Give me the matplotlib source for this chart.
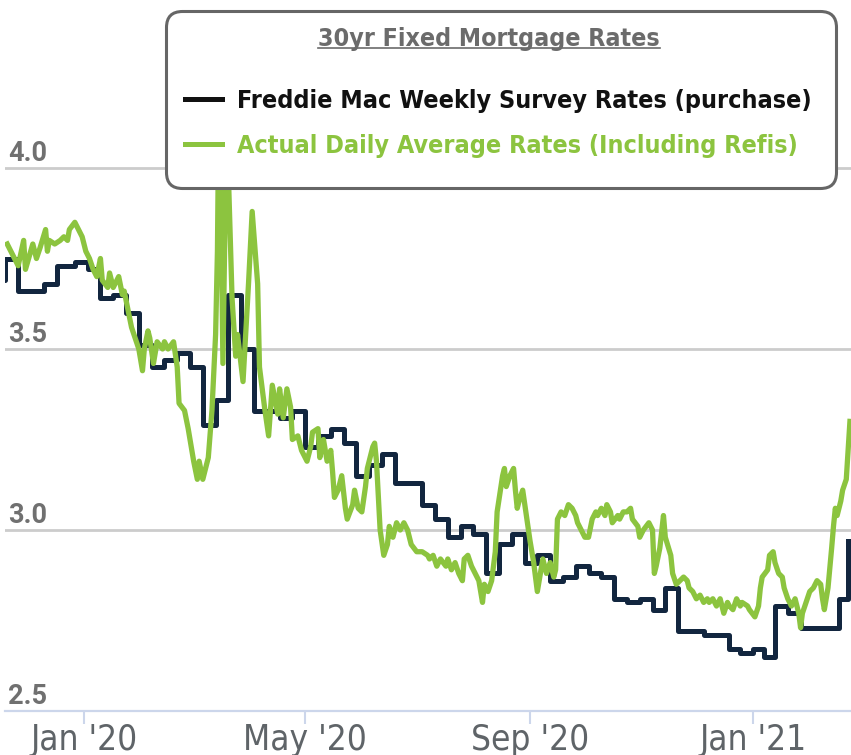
import numpy as np
import pandas as pd
import matplotlib
matplotlib.use('Agg')
import matplotlib.pyplot as plt
from matplotlib import font_manager as fm
from matplotlib.patches import FancyBboxPatch
from matplotlib.lines import Line2D
from matplotlib.font_manager import FontProperties
import matplotlib.transforms as mtransforms

# weekly survey (step line), dates as they sit on the chart
freddie_dates = ['2019-11-12', '2019-11-19', '2019-11-26', '2019-12-10', '2019-12-17',
                 '2019-12-27', '2020-01-03', '2020-01-10', '2020-01-17', '2020-01-24',
                 '2020-01-31', '2020-02-07', '2020-02-14', '2020-02-21', '2020-02-28',
                 '2020-03-06', '2020-03-13', '2020-03-20', '2020-03-27', '2020-04-03',
                 '2020-04-10', '2020-04-17', '2020-04-24', '2020-05-01', '2020-05-08',
                 '2020-05-15', '2020-05-22', '2020-05-29', '2020-06-05', '2020-06-12',
                 '2020-06-19', '2020-06-26', '2020-07-04', '2020-07-11', '2020-07-18',
                 '2020-07-25', '2020-08-01', '2020-08-08', '2020-08-15', '2020-08-22',
                 '2020-08-29', '2020-09-05', '2020-09-12', '2020-09-19', '2020-09-26',
                 '2020-10-03', '2020-10-10', '2020-10-17', '2020-10-24', '2020-10-31',
                 '2020-11-07', '2020-11-14', '2020-11-21', '2020-11-27', '2020-12-05',
                 '2020-12-12', '2020-12-19', '2020-12-25', '2021-01-01', '2021-01-07',
                 '2021-01-13', '2021-01-20', '2021-01-27', '2021-02-03', '2021-02-10',
                 '2021-02-17', '2021-02-22']
freddie_rates = [3.69, 3.75, 3.66, 3.68, 3.73, 3.74, 3.72, 3.64, 3.65, 3.60,
                 3.51, 3.45, 3.47, 3.49, 3.45, 3.29, 3.36, 3.65, 3.50, 3.33,
                 3.33, 3.31, 3.33, 3.23, 3.26, 3.28, 3.24, 3.15, 3.18, 3.21,
                 3.13, 3.13, 3.07, 3.03, 2.98, 3.01, 2.99, 2.88, 2.96, 2.99,
                 2.91, 2.93, 2.86, 2.87, 2.90, 2.88, 2.87, 2.81, 2.80, 2.81,
                 2.78, 2.84, 2.72, 2.72, 2.71, 2.71, 2.67, 2.66, 2.67, 2.65,
                 2.79, 2.77, 2.73, 2.73, 2.73, 2.81, 2.97]

# daily average, days counted from 2020-01-01
daily_origin = '2020-01-01'
daily_days = [-42, -36, -33, -32, -28, -26, -24, -21, -20, -19, -16, -13, -11, -9, -8,
              -5, -3, -1, 1, 3, 5, 7, 9, 10, 13, 14, 16, 19, 21, 22, 24, 26, 28, 30,
              32, 33, 35, 36, 38, 40, 43, 44, 46, 49, 51, 52, 55, 57, 60, 62, 63, 65,
              68, 70, 72, 73, 74, 76, 78, 81, 83, 84, 87, 90, 92, 95, 96, 99, 101,
              103, 106, 107, 109, 111, 113, 114, 117, 119, 122, 124, 125, 128, 129,
              131, 133, 135, 136, 137, 139, 141, 143, 144, 147, 148, 150, 152, 154,
              155, 158, 159, 160, 162, 164, 166, 167, 169, 171, 173, 175, 177, 179,
              182, 185, 188, 189, 191, 193, 195, 198, 199, 201, 203, 205, 207, 208,
              210, 212, 214, 216, 218, 219, 221, 223, 225, 226, 229, 230, 231, 233,
              235, 236, 237, 238, 240, 242, 244, 246, 248, 249, 251, 253, 255, 257,
              258, 259, 261, 263, 265, 267, 269, 270, 272, 274, 276, 278, 280, 281,
              283, 285, 286, 288, 289, 292, 293, 295, 297, 299, 300, 303, 304, 306,
              309, 311, 312, 313, 315, 317, 318, 321, 322, 324, 326, 328, 330, 331,
              333, 335, 337, 339, 341, 342, 344, 346, 348, 350, 352, 353, 355, 357,
              359, 360, 363, 364, 367, 369, 370, 371, 374, 375, 377, 378, 380, 382,
              383, 385, 387, 389, 391, 392, 393, 395, 397, 399, 401, 403, 404, 405,
              407, 409, 410, 411, 412, 414, 415, 417, 418, 419]
daily_rates = [3.79, 3.73, 3.80, 3.72, 3.79, 3.75, 3.78, 3.83, 3.77, 3.80, 3.79, 3.80,
               3.81, 3.80, 3.83, 3.85, 3.83, 3.81, 3.77, 3.75, 3.72, 3.70, 3.75, 3.69,
               3.67, 3.71, 3.67, 3.70, 3.65, 3.66, 3.61, 3.56, 3.53, 3.50, 3.44, 3.50,
               3.55, 3.53, 3.46, 3.52, 3.50, 3.52, 3.50, 3.52, 3.45, 3.35, 3.33, 3.28,
               3.19, 3.14, 3.19, 3.14, 3.20, 3.33, 3.54, 3.77, 4.30, 3.46, 4.15, 3.64,
               3.48, 3.54, 3.41, 3.68, 3.88, 3.68, 3.45, 3.33, 3.26, 3.40, 3.32, 3.39,
               3.31, 3.39, 3.34, 3.25, 3.26, 3.22, 3.19, 3.23, 3.27, 3.28, 3.20, 3.25,
               3.19, 3.22, 3.16, 3.09, 3.11, 3.15, 3.06, 3.03, 3.07, 3.11, 3.06, 3.05,
               3.12, 3.17, 3.23, 3.24, 3.19, 3.00, 2.93, 2.96, 3.01, 2.98, 3.02, 3.00,
               3.02, 3.00, 2.96, 2.94, 2.94, 2.93, 2.92, 2.93, 2.90, 2.92, 2.90, 2.92,
               2.89, 2.91, 2.88, 2.86, 2.92, 2.93, 2.90, 2.88, 2.86, 2.80, 2.85, 2.83,
               2.86, 2.94, 3.05, 3.15, 3.17, 3.12, 3.15, 3.17, 3.11, 3.06, 3.08, 3.11,
               3.04, 2.97, 2.91, 2.83, 2.86, 2.92, 2.88, 2.91, 2.87, 2.89, 3.03, 3.05,
               3.04, 3.07, 3.06, 3.04, 3.02, 3.00, 2.98, 2.98, 3.03, 3.05, 3.04, 3.06,
               3.04, 3.07, 3.05, 3.02, 3.04, 3.03, 3.05, 3.05, 3.06, 3.03, 3.01, 2.98,
               3.00, 3.02, 3.00, 2.88, 2.90, 2.95, 3.04, 2.98, 2.93, 2.88, 2.85, 2.86,
               2.87, 2.86, 2.84, 2.83, 2.81, 2.82, 2.80, 2.81, 2.80, 2.81, 2.79, 2.81,
               2.77, 2.80, 2.79, 2.78, 2.81, 2.79, 2.80, 2.79, 2.78, 2.76, 2.79, 2.84,
               2.87, 2.89, 2.93, 2.94, 2.91, 2.88, 2.87, 2.84, 2.81, 2.79, 2.81, 2.77,
               2.73, 2.77, 2.80, 2.83, 2.84, 2.86, 2.85, 2.81, 2.78, 2.84, 2.95, 3.01,
               3.06, 3.04, 3.08, 3.11, 3.14, 3.22, 3.30]

y_ticks = [2.5, 3.0, 3.5, 4.0]
x_tick_dates = ['2020-01-01', '2020-05-01', '2020-09-01', '2021-01-01']
x_tick_labels = ["Jan '20", "May '20", "Sep '20", "Jan '21"]

legend_title = '30yr Fixed Mortgage Rates'
series_names = ['Freddie Mac Weekly Survey Rates (purchase)',
                'Actual Daily Average Rates (Including Refis)']

NAVY = '#12263f'
GREEN = '#8cc43f'
W, H = 851, 755


def narrow_font(weight):
    # a condensed face if one is installed, Roboto otherwise
    for f in fm.fontManager.ttflist:
        if f.name in ('Liberation Sans Narrow', 'DejaVu Sans') and f.stretch == 'condensed':
            return FontProperties(family=f.name, stretch='condensed', weight=weight)
        if f.name == 'Liberation Sans Narrow':
            return FontProperties(family=f.name, weight=weight)
    return FontProperties(family='Roboto', weight=weight)


def fit(fig, fp, text, width_px):
    # scale the font so the text spans the width seen in the picture
    fp = fp.copy()
    fp.set_size(20)
    r = fig.canvas.get_renderer()
    w, _, _ = r.get_text_width_height_descent(text, fp, ismath=False)
    fp.set_size(20 * width_px / w)
    return fp


def main():
    fw = pd.to_datetime(freddie_dates)
    dd = pd.Timestamp(daily_origin) + pd.to_timedelta(daily_days, unit='D')

    fig = plt.figure(figsize=(W / 100, H / 100), dpi=100)
    ax = fig.add_axes([5 / W, 44 / H, 846 / W, 711 / H])

    ax.step(fw, freddie_rates, where='post', color=NAVY, lw=3.6, zorder=3)
    ax.plot(dd, daily_rates, color=GREEN, lw=3.8, zorder=4,
            solid_joinstyle='round')

    ax.set_xlim(pd.Timestamp('2019-11-18 19:00'), pd.Timestamp('2021-02-23 14:00'))
    ax.set_ylim(2.5, 2.5 + 711 / 362)

    ax.set_yticks(y_ticks)
    ax.tick_params(axis='y', left=False, labelleft=False)
    ax.grid(axis='y', color='#cccccc', lw=2.0, zorder=1)
    ax.set_axisbelow(True)

    for s in ['top', 'left', 'right']:
        ax.spines[s].set_visible(False)
    ax.spines['bottom'].set_color('#ccd6eb')
    ax.spines['bottom'].set_linewidth(1.6)
    ax.spines['bottom'].set_zorder(2)

    xfp = fit(fig, narrow_font('normal'), x_tick_labels[0], 107)
    ax.set_xticks(pd.to_datetime(x_tick_dates))
    ax.set_xticklabels(x_tick_labels, fontproperties=xfp)
    ax.tick_params(axis='x', direction='out', length=9, width=1.5, color='#ccd6eb',
                   pad=-0.6, labelcolor='#5f6468')

    yfp = fit(fig, FontProperties(family='Roboto', weight='bold'), '4.0', 39)
    off = mtransforms.offset_copy(ax.get_yaxis_transform(), fig=fig, x=3, y=7, units='dots')
    for v in y_ticks:
        ax.text(0, v, '%.1f' % v, transform=off, ha='left', va='baseline',
                fontproperties=yfp, color='#707070', zorder=2)

    # legend box
    box = FancyBboxPatch((166.5 / 100, 566.5 / 100), 670 / 100, 177 / 100,
                         boxstyle='round,pad=0,rounding_size=0.16',
                         transform=fig.dpi_scale_trans, fc='white', ec='#666666',
                         lw=2.2, zorder=3)
    fig.add_artist(box)

    lfp = fit(fig, narrow_font('bold'), series_names[0], 573)
    tfp = fit(fig, narrow_font('bold'), legend_title, 342)
    t = fig.text(489 / W, 1 - 39 / H, legend_title, ha='center', va='center',
                 fontproperties=tfp, color='#6b6b6b', zorder=6)

    fs = lfp.get_size_in_points() * 100 / 72
    _, row_h, _ = fig.canvas.get_renderer().get_text_width_height_descent('lp', lfp, ismath=False)
    handles = [Line2D([], [], color='#111111', lw=3.6),
               Line2D([], [], color=GREEN, lw=3.6)]
    fig.legend(handles, series_names, loc='upper left',
               bbox_to_anchor=(185 / W, 1 - (101 - row_h / 2) / H), frameon=False,
               prop=lfp, handlelength=37 / fs, handletextpad=15 / fs,
               labelspacing=(45 - row_h) / fs, borderpad=0, borderaxespad=0,
               labelcolor=['#111111', GREEN])

    fig.canvas.draw()
    bb = t.get_window_extent()
    fig.add_artist(Line2D([bb.x0, bb.x1], [bb.y0 + 3, bb.y0 + 3], color='#6b6b6b',
                          lw=1.2, transform=mtransforms.IdentityTransform(), zorder=6))

    fig.savefig('out.png', dpi=100)


if __name__ == '__main__':
    main()
